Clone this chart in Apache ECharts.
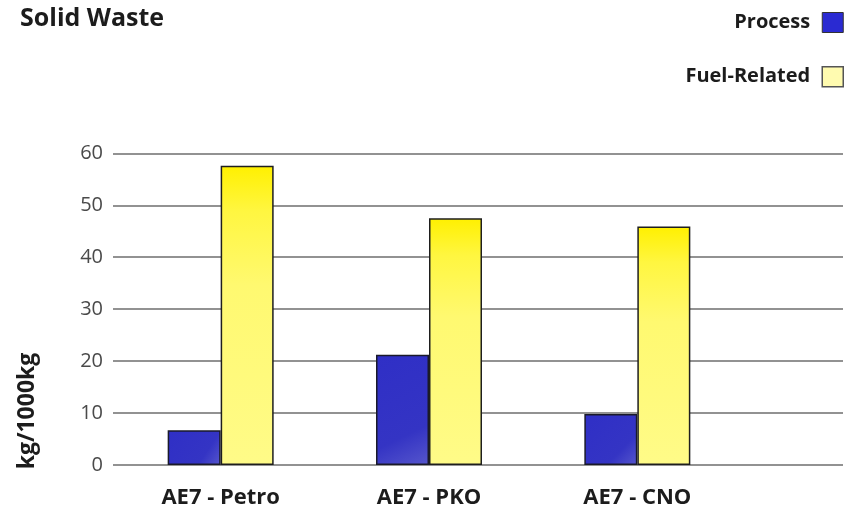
<!DOCTYPE html>
<html>
<head>
<meta charset="utf-8">
<title>Solid Waste</title>
<script src="https://cdn.jsdelivr.net/npm/echarts@6/dist/echarts.min.js"></script>
<style>
  html, body { margin: 0; padding: 0; background: #ffffff; }
  #chart { width: 854px; height: 513px; }
</style>
</head>
<body>
<div id="chart"></div>
<script>
// Solid waste per 1000 kg of product, split into process and fuel-related parts
const categories = ['AE7 - Petro', 'AE7 - PKO', 'AE7 - CNO'];
const processValues = [6.7, 21.2, 9.8];
const fuelValues = [57.6, 47.5, 45.9];
const yTicks = [0, 10, 20, 30, 40, 50, 60];

const FONT = '"Open Sans", "DejaVu Sans", sans-serif';
const yMin = yTicks[0];
const yMax = yTicks[yTicks.length - 1];
const yStep = yTicks[1] - yTicks[0];

const chart = echarts.init(document.getElementById('chart'), null, { renderer: 'canvas' });

chart.setOption({
  backgroundColor: '#ffffff',
  animation: false,
  textStyle: { fontFamily: FONT },
  title: {
    text: 'Solid Waste',
    left: 15,
    top: 1,
    textStyle: { fontFamily: FONT, fontSize: 25, fontWeight: 'bold', color: '#1c1c1c' }
  },
  legend: {
    orient: 'vertical',
    right: 5,
    top: 7,
    align: 'right',
    itemWidth: 21,
    itemHeight: 20,
    itemGap: 33,
    icon: 'rect',
    textStyle: {
      fontFamily: FONT, fontSize: 20, fontWeight: 'bold', color: '#1c1c1c',
      padding: [0, 7, 0, 0]
    },
    data: [
      { name: 'Process', itemStyle: { color: '#2a2ad2', borderColor: '#333', borderWidth: 1 } },
      { name: 'Fuel-Related', itemStyle: { color: '#fffbb0', borderColor: '#555', borderWidth: 1.5 } }
    ]
  },
  graphic: [{
    type: 'text',
    x: 27,
    y: 411,
    rotation: Math.PI / 2,
    style: {
      text: 'kg/1000kg',
      fontFamily: FONT,
      fontSize: 23,
      fontWeight: 'bold',
      fill: '#1c1c1c',
      align: 'center',
      verticalAlign: 'middle'
    }
  }],
  grid: [
    // bars
    { left: 116.5, width: 625, top: 153.3, bottom: 48, containLabel: false },
    // value scale with its full-width gridlines
    { left: 113, right: 11, top: 153.3, bottom: 48, containLabel: false }
  ],
  xAxis: [
    {
      type: 'category',
      gridIndex: 0,
      data: categories,
      axisLine: { show: false },
      axisTick: { show: false },
      axisLabel: {
        margin: 22,
        fontFamily: FONT, fontSize: 22, fontWeight: 'bold', color: '#1c1c1c'
      }
    },
    {
      type: 'value',
      gridIndex: 1,
      show: false
    }
  ],
  yAxis: [
    {
      type: 'value',
      gridIndex: 0,
      min: yMin, max: yMax, interval: yStep,
      show: false,
      splitLine: { show: false }
    },
    {
      type: 'value',
      gridIndex: 1,
      min: yMin, max: yMax, interval: yStep,
      axisLine: { show: false },
      axisTick: { show: false },
      axisLabel: {
        margin: 10,
        fontFamily: FONT, fontSize: 20, color: '#4a4a4a'
      },
      splitLine: { show: true, lineStyle: { color: '#6e6e6e', width: 1.5 } }
    }
  ],
  series: [
    {
      name: 'Process',
      type: 'bar',
      xAxisIndex: 0,
      yAxisIndex: 0,
      data: processValues,
      barWidth: 53,
      barGap: '0%',
      z: 3,
      itemStyle: {
        color: new echarts.graphic.LinearGradient(0, 0, 1, 1, [
          { offset: 0, color: '#2f2fc6' },
          { offset: 0.7, color: '#3434c4' },
          { offset: 1, color: '#5656cc' }
        ]),
        borderColor: '#1a1a2a',
        borderWidth: 1.5
      }
    },
    {
      name: 'Fuel-Related',
      type: 'bar',
      xAxisIndex: 0,
      yAxisIndex: 0,
      data: fuelValues,
      barWidth: 53,
      barGap: '0%',
      z: 3,
      itemStyle: {
        color: new echarts.graphic.LinearGradient(0, 0, 0, 1, [
          { offset: 0, color: '#fff000' },
          { offset: 0.15, color: '#fff640' },
          { offset: 0.4, color: '#fff970' },
          { offset: 1, color: '#fffb88' }
        ]),
        borderColor: '#1e1e1e',
        borderWidth: 1.5
      }
    }
  ]
});
</script>
</body>
</html>
